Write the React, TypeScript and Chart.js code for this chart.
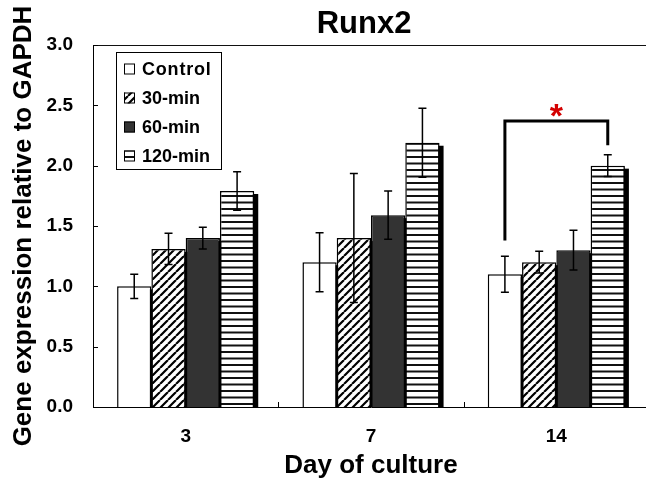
import React, { useEffect, useRef } from 'react';
import { Chart, registerables } from 'chart.js';

Chart.register(...registerables);

// ---- data ----
const categories = ['3', '7', '14'];
const seriesNames = ['Control', '30-min', '60-min', '120-min'];
const controlMean = [1.0, 1.2, 1.1];
const controlErr = [0.1, 0.245, 0.15];
const min30Mean = [1.31, 1.4, 1.2];
const min30Err = [0.13, 0.535, 0.09];
const min60Mean = [1.4, 1.59, 1.3];
const min60Err = [0.09, 0.2, 0.165];
const min120Mean = [1.79, 2.19, 2.0];
const min120Err = [0.16, 0.285, 0.09];
const yMin = 0;
const yMax = 3;
const yStep = 0.5;

// significance bracket (day 14: Control vs 120-min)
const bracketCategory = 2;
const bracketFromSeries = 0;
const bracketToSeries = 3;
const bracketTop = 2.37;
const bracketLeftEnd = 1.38;
const bracketRightEnd = 2.17;
const starValue = 2.48;

const FONT = "'Liberation Sans', Arial, sans-serif";

function makeTile(w: number, h: number, draw: (c: CanvasRenderingContext2D) => void) {
  const c = document.createElement('canvas');
  c.width = w;
  c.height = h;
  const g = c.getContext('2d')!;
  g.fillStyle = '#fff';
  g.fillRect(0, 0, w, h);
  draw(g);
  return c;
}

export default function App() {
  const ref = useRef<HTMLCanvasElement>(null);

  useEffect(() => {
    const canvas = ref.current!;
    const ctx0 = canvas.getContext('2d')!;

    const diagTile = makeTile(8, 8, (g) => {
      g.strokeStyle = '#000';
      g.lineWidth = 2.2;
      g.beginPath();
      for (let k = -1; k <= 1; k++) {
        g.moveTo(k * 8, 8);
        g.lineTo(k * 8 + 8, 0);
      }
      g.stroke();
    });
    const horizTile = makeTile(4, 13, (g) => {
      g.fillStyle = '#111';
      g.fillRect(0, 0, 4, 2);
      g.fillRect(0, 6.5, 4, 2);
    });
    const diagPattern = ctx0.createPattern(diagTile, 'repeat')!;
    const horizPattern = ctx0.createPattern(horizTile, 'repeat')!;

    const means = [controlMean, min30Mean, min60Mean, min120Mean];
    const errs = [controlErr, min30Err, min60Err, min120Err];
    const fills: any[] = ['#ffffff', diagPattern, '#333333', horizPattern];

    const decor = {
      id: 'decor',
      beforeDatasetsDraw(chart: any) {
        const { ctx, chartArea: ca } = chart;
        ctx.save();
        ctx.beginPath();
        ctx.rect(ca.left, ca.top, ca.right - ca.left, ca.bottom - ca.top);
        ctx.clip();
        ctx.fillStyle = '#000';
        chart.data.datasets.forEach((_d: any, di: number) => {
          chart.getDatasetMeta(di).data.forEach((el: any) => {
            const p = el.getProps(['x', 'y', 'base', 'width'], true);
            ctx.fillRect(p.x - p.width / 2 + 4, p.y + 3, p.width, p.base - p.y);
          });
        });
        ctx.restore();
      },
      afterDatasetsDraw(chart: any) {
        const { ctx, chartArea: ca, scales } = chart;
        const ys = scales.y;
        const xs = scales.x;
        ctx.save();
        // error bars
        ctx.strokeStyle = '#000';
        ctx.lineWidth = 1.5;
        means.forEach((m, di) => {
          chart.getDatasetMeta(di).data.forEach((el: any, i: number) => {
            const x = el.x;
            const yt = ys.getPixelForValue(m[i] + errs[di][i]);
            const yb = ys.getPixelForValue(m[i] - errs[di][i]);
            ctx.beginPath();
            ctx.moveTo(x, yt);
            ctx.lineTo(x, yb);
            ctx.moveTo(x - 4, yt);
            ctx.lineTo(x + 4, yt);
            ctx.moveTo(x - 4, yb);
            ctx.lineTo(x + 4, yb);
            ctx.stroke();
          });
        });
        // frame (top and right)
        ctx.lineWidth = 1.2;
        ctx.strokeStyle = '#111';
        ctx.beginPath();
        ctx.moveTo(ca.left, ca.top + 0.5);
        ctx.lineTo(ca.right, ca.top + 0.5);
        ctx.lineTo(ca.right, ca.bottom);
        ctx.stroke();
        // inner tick marks
        ctx.lineWidth = 1;
        ctx.strokeStyle = '#000';
        ctx.beginPath();
        ys.ticks.forEach((t: any) => {
          const y = Math.round(ys.getPixelForValue(t.value)) + 0.5;
          ctx.moveTo(ca.left, y);
          ctx.lineTo(ca.left + 5, y);
        });
        for (let i = 0; i < categories.length - 1; i++) {
          const x = Math.round(xs.getPixelForValue(i + 0.5)) + 0.5;
          ctx.moveTo(x, ca.bottom);
          ctx.lineTo(x, ca.bottom - 5);
        }
        ctx.stroke();
        // significance bracket
        const xl = chart.getDatasetMeta(bracketFromSeries).data[bracketCategory].x;
        const xr = chart.getDatasetMeta(bracketToSeries).data[bracketCategory].x;
        const yTop = ys.getPixelForValue(bracketTop);
        ctx.lineWidth = 3;
        ctx.strokeStyle = '#000';
        ctx.lineJoin = 'miter';
        ctx.beginPath();
        ctx.moveTo(xl, ys.getPixelForValue(bracketLeftEnd));
        ctx.lineTo(xl, yTop);
        ctx.lineTo(xr, yTop);
        ctx.lineTo(xr, ys.getPixelForValue(bracketRightEnd));
        ctx.stroke();
        const starX = xs.getPixelForValue(bracketCategory);
        ctx.fillStyle = '#d40000';
        ctx.font = `bold 34px ${FONT}`;
        ctx.textAlign = 'center';
        ctx.textBaseline = 'alphabetic';
        ctx.fillText('*', starX, ys.getPixelForValue(starValue) + 0.58 * 34);
        // legend
        const lx = ca.left + 23;
        const ly = ca.top + 7;
        ctx.lineWidth = 1;
        ctx.strokeStyle = '#000';
        ctx.fillStyle = '#fff';
        ctx.fillRect(lx, ly, 105, 117);
        ctx.strokeRect(lx + 0.5, ly + 0.5, 105, 117);
        ctx.font = `bold 18px ${FONT}`;
        ctx.textAlign = 'left';
        ctx.textBaseline = 'middle';
        seriesNames.forEach((name, i) => {
          const cy = ly + 17 + i * 29;
          const mx = lx + 8;
          ctx.fillStyle = fills[i];
          ctx.fillRect(mx, cy - 5.5, 11, 11);
          ctx.strokeRect(mx + 0.5, cy - 5.5 + 0.5, 10, 10);
          ctx.fillStyle = '#000';
          (ctx as any).letterSpacing = i === 0 ? '0.8px' : '0px';
          ctx.fillText(name, lx + 26, cy + 1);
        });
        (ctx as any).letterSpacing = '0px';
        // title
        ctx.font = `bold 31px ${FONT}`;
        ctx.textAlign = 'center';
        ctx.textBaseline = 'middle';
        ctx.fillStyle = '#000';
        ctx.fillText('Runx2', (ca.left + ca.right) / 2 - 7, 24);
        ctx.restore();
      },
    };

    const chart = new Chart(canvas, {
      type: 'bar',
      data: {
        labels: categories,
        datasets: seriesNames.map((name, i) => ({
          label: name,
          data: means[i],
          backgroundColor: fills[i],
          borderColor: '#000',
          borderWidth: 1.5,
        })),
      },
      options: {
        animation: false,
        responsive: false,
        devicePixelRatio: 1,
        layout: { padding: { top: 45, right: 11, left: 0, bottom: 0 } },
        datasets: { bar: { categoryPercentage: 0.74, barPercentage: 1 } },
        plugins: {
          legend: { display: false },
          tooltip: { enabled: false },
          title: { display: false },
        },
        scales: {
          x: {
            grid: { display: false, drawTicks: false },
            border: { display: true, color: '#000', width: 1 },
            ticks: { padding: 18, color: '#000', font: { family: FONT, size: 19, weight: 'bold' } },
            title: {
              display: true,
              text: 'Day of culture',
              color: '#000',
              font: { family: FONT, size: 26, weight: 'bold' },
              padding: { top: 0, bottom: 4 },
            },
            afterFit: (s: any) => {
              s.height = 78;
            },
          },
          y: {
            min: yMin,
            max: yMax,
            grid: { display: false, drawTicks: false },
            border: { display: true, color: '#000', width: 1 },
            ticks: {
              stepSize: yStep,
              padding: 20,
              color: '#000',
              font: { family: FONT, size: 19, weight: 'bold' },
              callback: (v: any) => Number(v).toFixed(1),
            },
            title: {
              display: true,
              text: 'Gene expression relative to GAPDH',
              color: '#000',
              font: { family: FONT, size: 26, weight: 'bold' },
              padding: { top: 8, bottom: 0 },
            },
            afterFit: (s: any) => {
              s.width = 93;
            },
          },
        },
      } as any,
      plugins: [decor],
    });
    return () => chart.destroy();
  }, []);

  return (
    <div
      style={{
        position: 'fixed',
        left: 0,
        top: 0,
        width: 646,
        height: 485,
        overflow: 'hidden',
        background: '#fff',
      }}
    >
      <canvas ref={ref} width={660} height={485} style={{ display: 'block' }} />
    </div>
  );
}
